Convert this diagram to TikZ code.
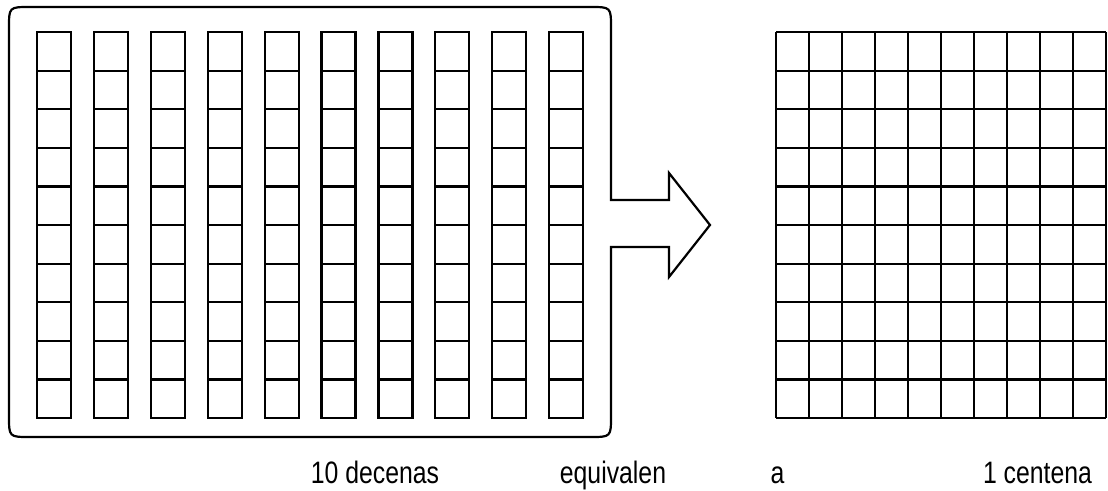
\documentclass[tikz,border=0pt]{standalone}
\usepackage{fontspec}
\setmainfont{Liberation Sans}[FakeStretch=0.8]
\begin{document}
\begin{tikzpicture}[x=1pt,y=-1pt,
  outline/.style={draw=black,line width=2.2pt,line join=miter},
  cellbox/.style={draw=black,line width=2.2pt},
  caption/.style={anchor=base,inner sep=0pt,font=\fontsize{31}{34}\selectfont}]
\useasboundingbox (0,0) rectangle (1108,490);
% frame with arrow
\draw[outline] (611,200) -- (611,28) .. controls (611,7) .. (590,7)
  -- (30,7) .. controls (9,7) .. (9,28)
  -- (9,416) .. controls (9,437) .. (30,437)
  -- (590,437) .. controls (611,437) .. (611,416)
  -- (611,247) -- (669,247) -- (669,277) -- (710,225) -- (669,173) -- (669,200) -- cycle;
% ten columns of ten
\foreach \i in {0,...,9}{
  \pgfmathsetmacro{\xl}{37+\i*56.9}
  \draw[cellbox] (\xl,32) rectangle (\xl+34,418);
  \foreach \j in {1,...,9}{
    \draw[cellbox] (\xl,32+\j*38.6) -- (\xl+34,32+\j*38.6);
  }
}
% hundred square
\foreach \j in {0,...,10}{
  \draw[cellbox] (776,32+\j*38.6) -- (1106,32+\j*38.6);
  \draw[cellbox] (776+\j*33,32) -- (776+\j*33,418);
}
\node[caption] (t1) at (375,483) {10 decenas};
\node[caption] (t2) at (613,483) {equivalen};
\node[caption] (t3) at (777.5,483) {a};
\node[caption] (t4) at (1037.5,483) {1 centena};
\end{tikzpicture}
\end{document}
